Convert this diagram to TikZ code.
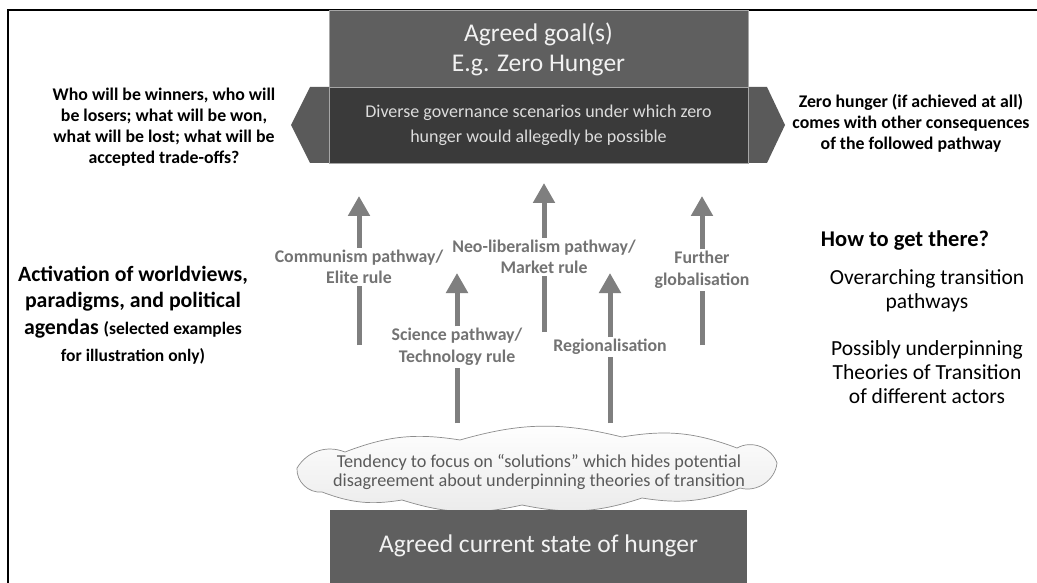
\documentclass[tikz,border=0pt]{standalone}
\usepackage{fontspec}
\setmainfont{Carlito}
\usetikzlibrary{arrows.meta}
\definecolor{goalgray}{HTML}{5F5F5F}
\definecolor{banddark}{HTML}{3A3A3A}
\definecolor{sidegray}{HTML}{5A5A5A}
\definecolor{arrowgray}{HTML}{7F7F7F}
\definecolor{labelgray}{HTML}{737373}
\definecolor{cloudtext}{HTML}{5A5A5A}
\definecolor{cloudline}{HTML}{8C8C8C}
\definecolor{boxtext}{HTML}{F2F2F2}
\definecolor{bandtext}{HTML}{DCDCDC}
\tikzset{
  bigbox/.style={rectangle, inner sep=0pt, align=center, text=boxtext,
    font=\fontsize{25.5}{30}\selectfont},
  pathlabel/.style={align=center, text=labelgray, inner sep=2pt,
    font=\bfseries\fontsize{17.8}{21.5}\selectfont},
  pathway/.style={draw=arrowgray, line width=5pt},
  sidenote/.style={align=center, font=\bfseries\fontsize{17.8}{21}\selectfont},
  plainnote/.style={align=center, font=\fontsize{21.5}{24}\selectfont},
  puff/.style={bend left=15},
  endpuff/.style={bend left=50},
}
\begin{document}
\begin{tikzpicture}[x=1pt,y=-1pt]
\useasboundingbox (0,0) rectangle (1037,583);
\fill[white] (0,0) rectangle (1037,583);

% frame lines along the top and the left
\draw[line width=2pt] (7.5,583) -- (7.5,10) -- (1037,10);

% side chevrons of the scenario band
\fill[sidegray] (329,87) -- (310,87) -- (291,125) -- (310,163) -- (329,163) -- cycle;
\fill[sidegray] (748,87) -- (767,87) -- (785,125) -- (767,163) -- (748,163) -- cycle;

% goal box and scenario band
\node[bigbox, fill=goalgray, draw=gray!70, line width=0.6pt,
  minimum width=419pt, minimum height=77pt] (goal) at (538.5,49)
  {Agreed goal(s)\\E.g. Zero Hunger};
\node[rectangle, fill=banddark, draw=gray!70, line width=0.6pt, inner sep=0pt,
  minimum width=419pt, minimum height=76pt, align=center, text=bandtext,
  font=\fontsize{18}{25}\selectfont] (band) at (538.5,125)
  {Diverse governance scenarios under which zero\\hunger would allegedly be possible};

% notes beside the band
\node[sidenote] (losers) at (164,127)
  {Who will be winners, who will\\be losers; what will be won,\\what will be lost; what will be\\accepted trade-offs?};
\node[sidenote] (conseq) at (911,123)
  {Zero hunger (if achieved at all)\\comes with other consequences\\of the followed pathway};

% left explanation
\node[align=center, font=\bfseries\fontsize{21.8}{26.7}\selectfont] (activation) at (133,315)
  {Activation of worldviews,\\paradigms, and political\\agendas {\fontsize{17.5}{26.7}\selectfont(selected examples}\\{\fontsize{17.5}{26.7}\selectfont for illustration only)}};

% right explanation
\node[font=\bfseries\fontsize{22.5}{26}\selectfont] (howto) at (905,241) {How to get there?};
\node[plainnote] (overarch) at (927,291)
  {Overarching transition\\pathways};
\node[plainnote] (underpin) at (927,372)
  {Possibly underpinning\\Theories of Transition\\of different actors};

% pathway labels
\node[pathlabel] (commu) at (359,267) {Communism pathway/\\Elite rule};
\node[pathlabel] (neolib) at (544,257) {Neo-liberalism pathway/\\Market rule};
\node[pathlabel] (scien) at (457,347) {Science pathway/\\Technology rule};
\node[pathlabel] (regio) at (610,347) {Regionalisation};
\node[pathlabel] (globa) at (702,270) {Further\\globalisation};

% arrow end points
\coordinate (commuTop) at (359,196);
\coordinate (commuBot) at (359,345);
\coordinate (neolibTop) at (544,183);
\coordinate (neolibBot) at (544,332);
\coordinate (scienTop) at (457,273);
\coordinate (scienBot) at (457,423);
\coordinate (regioTop) at (610,273);
\coordinate (regioBot) at (610,423);
\coordinate (globaTop) at (702,196);
\coordinate (globaBot) at (702,345);

% pathway arrows, broken by their labels
\foreach \p in {commu,neolib,scien,regio,globa}{
  \draw[pathway] (\p Bot) -- (\p.south);
  \draw[pathway, -{Triangle[width=21pt,length=20pt]}] (\p.north) -- (\p Top);
}

% cloud of solutions: a flat ring of shallow puffs
\draw[cloudline, line width=0.7pt, top color=white, bottom color=gray!16]
  (297,468) to[bend left=40] (345,452) to[puff] (460,440) to[puff] (622,437)
  to[puff] (737,448) to[endpuff] (777,463) to[endpuff] (740,488)
  to[puff] (642,498) to[puff] (522,505) to[puff] (402,500) to[puff] (322,492)
  to[endpuff] cycle;
\node[align=center, text=cloudtext, inner sep=0pt,
  font=\fontsize{18.2}{19.5}\selectfont] (cloudtext) at (539,472)
  {Tendency to focus on “solutions” which hides potential\\disagreement about underpinning theories of transition};

% current state box
\node[bigbox, fill=goalgray, minimum width=417pt, minimum height=80pt, anchor=north] (current) at (538.5,510) {};
\node[bigbox] (currenttext) at (538.5,546) {Agreed current state of hunger};
\end{tikzpicture}
\end{document}
